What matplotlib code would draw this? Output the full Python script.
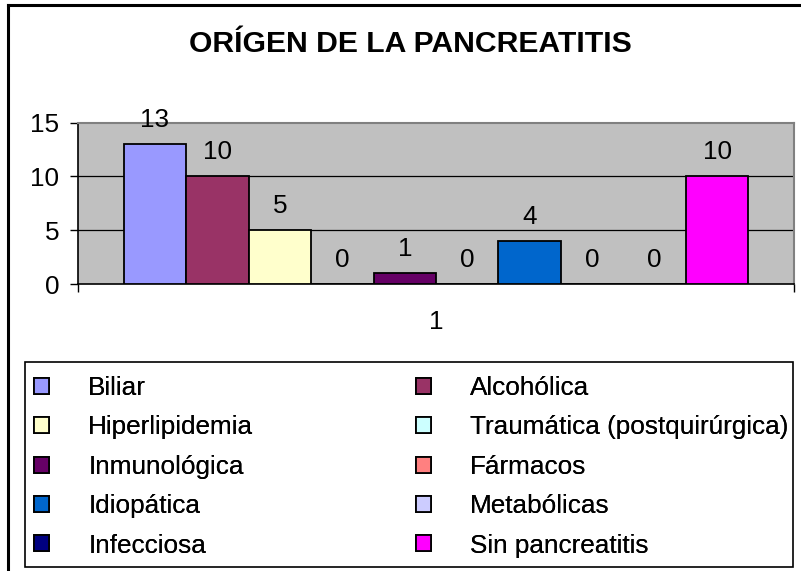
import matplotlib
matplotlib.use("Agg")
import matplotlib.pyplot as plt
from matplotlib.lines import Line2D
from matplotlib.patches import Rectangle, Patch

categories = ["Biliar", "Alcohólica", "Hiperlipidemia", "Traumática (postquirúrgica)",
              "Inmunológica", "Fármacos", "Idiopática", "Metabólicas", "Infecciosa",
              "Sin pancreatitis"]
values = [13, 10, 5, 0, 1, 0, 4, 0, 0, 10]
colors = ["#9999FF", "#993366", "#FFFFCC", "#CCFFFF", "#660066",
          "#FF8080", "#0066CC", "#CCCCFF", "#000080", "#FF00FF"]
x_label = ["1"]
y_ticks = [0, 5, 10, 15]
title = "ORÍGEN DE LA PANCREATITIS"

plt.rcParams['font.family'] = ['Liberation Sans', 'DejaVu Sans']
FS = 18.8

W, H = 801, 571
fig = plt.figure(figsize=(W / 100, H / 100), dpi=100)

# figure border (top and left, cut off at right/bottom)
fig.add_artist(Line2D([8 / W, 8 / W], [0, 1 - 5 / H], color="black", lw=2.2, transform=fig.transFigure))
fig.add_artist(Line2D([8 / W, 1], [1 - 5 / H, 1 - 5 / H], color="black", lw=2.2, transform=fig.transFigure))

left, right, top, bottom = 78, 794, 122.7, 284
ax = fig.add_axes([left / W, 1 - bottom / H, (right - left) / W, (bottom - top) / H])
ax.set_facecolor("#C0C0C0")

n = len(values)
xs = list(range(n))
gap = 0.73
ax.bar(xs, values, width=1.0, color=colors, edgecolor="black", linewidth=1.3, zorder=3)
for xi, v in zip(xs, values):
    ax.annotate(str(v), xy=(xi, v), xytext=(0, 17.5), textcoords="offset points",
                ha="center", va="center", fontsize=FS, zorder=4)

ax.set_xlim(-0.5 - gap, n - 0.5 + gap)
ax.set_ylim(0, 15)
ax.set_yticks(y_ticks)
ax.set_yticklabels([str(t) for t in y_ticks], fontsize=FS)
ax.tick_params(axis="y", length=5.5, width=1, pad=8, direction="out")
ax.set_xticks([(n - 1) / 2])
ax.set_xticklabels(x_label, fontsize=FS)
ax.tick_params(axis="x", which="major", length=0, pad=18.5)
ax.set_xticks([-0.5 - gap, n - 0.5 + gap], minor=True)
ax.tick_params(axis="x", which="minor", length=5.5, width=1, direction="out")

for yv in [5, 10]:
    ax.axhline(yv, color="black", lw=0.9, zorder=1)

ax.spines["left"].set_color("black")
ax.spines["bottom"].set_color("black")
ax.spines["left"].set_linewidth(1.2)
ax.spines["bottom"].set_linewidth(1.2)
ax.spines["top"].set_color("#808080")
ax.spines["right"].set_color("#808080")
ax.spines["top"].set_linewidth(1.5)
ax.spines["right"].set_linewidth(1.5)

fig.text(410.5 / W, 1 - 43.5 / H, title, ha="center", va="center", fontsize=21.7, fontweight="bold")

# legend frame
lx0, ly0, lx1, ly1 = 25, 362, 793, 567
fig.add_artist(Rectangle((lx0 / W, 1 - ly1 / H), (lx1 - lx0) / W, (ly1 - ly0) / H,
                         transform=fig.transFigure, facecolor="white", edgecolor="black", lw=1.2))

handles = [Patch(facecolor=c, edgecolor="black", linewidth=1.3) for c in colors]
col1 = [0, 2, 4, 6, 8]
col2 = [1, 3, 5, 7, 9]
for idx, xpos in ((col1, 34), (col2, 416)):
    leg = fig.legend([handles[i] for i in idx], [categories[i] for i in idx],
                     loc="upper left", bbox_to_anchor=(xpos / W, 1 - 376 / H),
                     frameon=False, fontsize=FS, borderpad=0, borderaxespad=0,
                     handlelength=0.575, handleheight=0.575, handletextpad=1.5,
                     labelspacing=0.59)
    fig.add_artist(leg)

fig.savefig("out.png", dpi=100)
